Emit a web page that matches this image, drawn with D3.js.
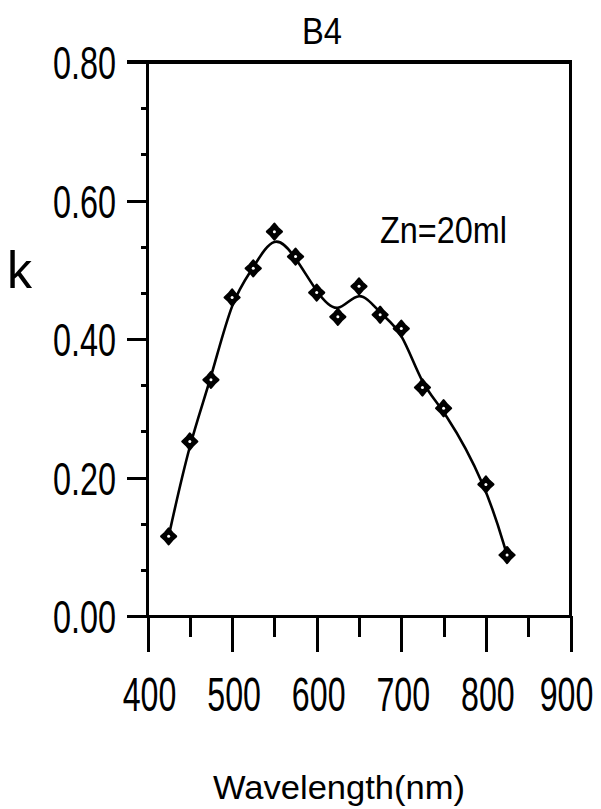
<!DOCTYPE html>
<html>
<head>
<meta charset="utf-8">
<script src="https://cdn.jsdelivr.net/npm/d3@7/dist/d3.min.js"></script>
<style>
  html, body { margin: 0; padding: 0; background: #fff; }
  svg { display: block; }
  text { font-family: "Liberation Sans", Arial, sans-serif; fill: #000; }
</style>
</head>
<body>
<svg id="chart" width="601" height="809"></svg>
<script>
// Absorption coefficient k of sample B4 (Zn = 20 ml) against wavelength
const wavelengths = [425, 450, 475, 500, 525, 550, 575, 600, 625, 650, 675, 700, 725, 750, 800, 825];
const kValues     = [0.115, 0.252, 0.341, 0.460, 0.502, 0.555, 0.519, 0.467, 0.432, 0.476, 0.435, 0.415, 0.330, 0.300, 0.190, 0.088];

const xMajorTicks = [400, 500, 600, 700, 800, 900];
const xMinorTicks = [450, 550, 650, 750, 850];
const yMajorTicks = [0, 0.2, 0.4, 0.6, 0.8];
const yMinorTicks = [0.2 / 3, 0.4 / 3, 0.8 / 3, 1.0 / 3, 1.4 / 3, 1.6 / 3, 2.0 / 3, 2.2 / 3];
const xTickLabels = ["400", "500", "600", "700", "800", "900"];
const yTickLabels = ["0.00", "0.20", "0.40", "0.60", "0.80"];

const titleText = "B4";
const xTitle = "Wavelength(nm)";
const yTitle = "k";
const noteText = "Zn=20ml";

const svg = d3.select("#chart");

const x = d3.scaleLinear().domain([400, 900]).range([147.5, 570.5]);
const y = d3.scaleLinear().domain([0, 0.8]).range([616, 62]);

const lw = 3;

// Axes: left and bottom via d3 axes, ticks pointing outward
const gx = svg.append("g").attr("transform", `translate(0,${y(0)})`)
  .call(d3.axisBottom(x).tickValues(xMajorTicks).tickSize(36).tickFormat(""));
const gxm = svg.append("g").attr("transform", `translate(0,${y(0)})`)
  .call(d3.axisBottom(x).tickValues(xMinorTicks).tickSize(21).tickFormat(""));
const gy = svg.append("g").attr("transform", `translate(${x(400)},0)`)
  .call(d3.axisLeft(y).tickValues(yMajorTicks).tickSize(21).tickFormat(""));
const gym = svg.append("g").attr("transform", `translate(${x(400)},0)`)
  .call(d3.axisLeft(y).tickValues(yMinorTicks).tickSize(7).tickFormat(""));

[gx, gxm, gy, gym].forEach(g => {
  g.select(".domain").remove();
  g.selectAll("line").attr("stroke", "#000").attr("stroke-width", lw)
    .attr("shape-rendering", "crispEdges");
});

// Frame lines
const frame = svg.append("g").attr("stroke", "#000").attr("stroke-width", lw)
  .attr("shape-rendering", "crispEdges").attr("fill", "none");
frame.append("line").attr("x1", x(400)).attr("x2", x(400)).attr("y1", y(0.8) - 1.5).attr("y2", y(0) + 1.5);
frame.append("line").attr("x1", x(900)).attr("x2", x(900)).attr("y1", y(0.8) - 1.5).attr("y2", y(0) + 1.5);
frame.append("line").attr("x1", x(400) - 21).attr("x2", x(900) + 1.5).attr("y1", y(0.8)).attr("y2", y(0.8)).attr("stroke-width", 4);
frame.append("line").attr("x1", x(400) - 21).attr("x2", x(900) + 1.5).attr("y1", y(0)).attr("y2", y(0));

// Tick labels (tall, condensed digits)
svg.append("g").selectAll("text").data(yMajorTicks).join("text")
  .attr("transform", d => `translate(116,${y(d) + 17}) scale(0.9,1.3)`)
  .attr("text-anchor", "end")
  .attr("font-size", 36)
  .text((d, i) => yTickLabels[i]);

svg.append("g").selectAll("text").data(xMajorTicks).join("text")
  .attr("transform", d => `translate(${d === 900 ? x(d) - 4 : x(d) + 2},${y(0) + 95}) scale(0.92,1.4)`)
  .attr("text-anchor", "middle")
  .attr("font-size", 35)
  .text((d, i) => xTickLabels[i]);

// Titles
svg.append("text").attr("x", 322).attr("y", 44).attr("text-anchor", "middle")
  .attr("font-size", 36).attr("textLength", 40).attr("lengthAdjust", "spacingAndGlyphs")
  .text(titleText);
svg.append("text").attr("x", 339).attr("y", 799).attr("text-anchor", "middle")
  .attr("font-size", 34).attr("textLength", 252).attr("lengthAdjust", "spacingAndGlyphs")
  .text(xTitle);
svg.append("text").attr("x", 7).attr("y", 288)
  .attr("font-size", 52).attr("textLength", 25).attr("lengthAdjust", "spacingAndGlyphs")
  .text(yTitle);
svg.append("text").attr("x", 380).attr("y", 243)
  .attr("font-size", 37).attr("textLength", 127).attr("lengthAdjust", "spacingAndGlyphs")
  .text(noteText);

// Smoothed curve through the measurements
const pts = wavelengths.map((w, i) => [w, kValues[i]]);
const line = d3.line().x(d => x(d[0])).y(d => y(d[1])).curve(d3.curveBasis);
svg.append("path").datum(pts).attr("d", line)
  .attr("fill", "none").attr("stroke", "#000").attr("stroke-width", 2.6);

// Four-point star markers with a small open centre
const star = "M0,-8 L3.6,-3.6 L7.5,0 L3.6,3.6 L0,8 L-3.6,3.6 L-7.5,0 L-3.6,-3.6 Z";
const mk = svg.append("g").selectAll("g").data(pts).join("g")
  .attr("transform", d => `translate(${x(d[0])},${y(d[1])})`);
mk.append("path").attr("d", star).attr("fill", "#000").attr("stroke", "#000").attr("stroke-width", 2.2)
  .attr("stroke-linejoin", "round");
mk.append("circle").attr("r", 1.5).attr("fill", "#fff");
</script>
</body>
</html>
